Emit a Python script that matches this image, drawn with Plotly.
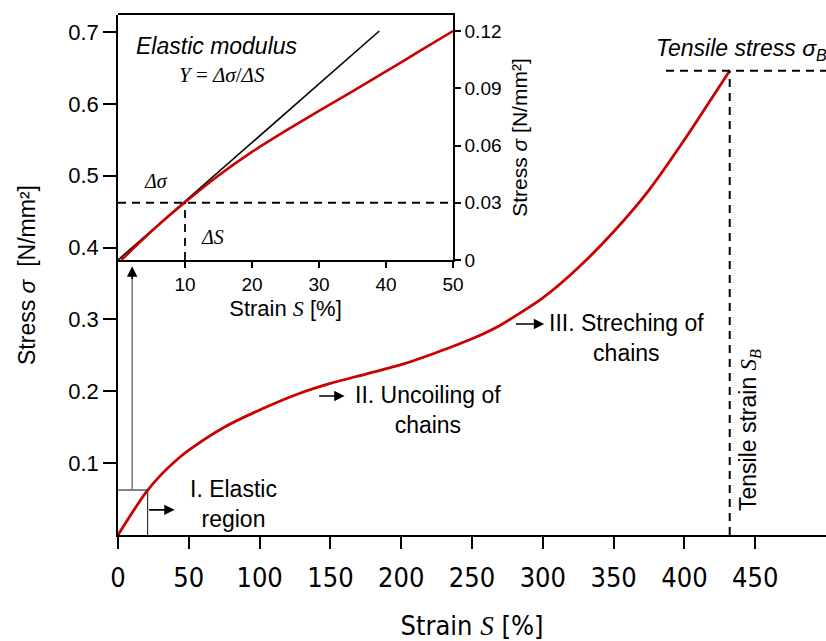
import plotly.graph_objects as go

# ---------------- data ----------------
strain_main = [0, 10, 20, 30, 40, 50, 75, 100, 128, 150, 175, 200, 225, 250, 270,
               300, 325, 350, 375, 400, 420, 432]
stress_main = [0, 0.031, 0.060, 0.083, 0.102, 0.118, 0.150, 0.174, 0.197, 0.211, 0.224,
               0.237, 0.254, 0.273, 0.292, 0.330, 0.372, 0.422, 0.480, 0.550, 0.610, 0.646]

strain_inset = [0.5, 5, 10, 15, 20, 25, 30, 35, 40, 45, 50]
stress_inset = [0, 0.0150, 0.0302, 0.0443, 0.0567, 0.0677, 0.0781, 0.0884, 0.0988, 0.1094, 0.12]

tangent_strain = [0, 39]
tangent_stress = [0, 0.12]

main_xticks = [0, 50, 100, 150, 200, 250, 300, 350, 400, 450]
main_yticks = [0.1, 0.2, 0.3, 0.4, 0.5, 0.6, 0.7]
main_yticktext = ["0.1", "0.2", "0.3", "0.4", "0.5", "0.6", "0.7"]
inset_xticks = [10, 20, 30, 40, 50]
inset_yticks = [0, 0.03, 0.06, 0.09, 0.12]
inset_yticktext = ["0", "0.03", "0.06", "0.09", "0.12"]

tensile_strain = 432
tensile_stress = 0.646
elastic_box_strain = 20.9
elastic_box_stress = 0.0626
ref_strain = 10
ref_stress = 0.03
arrow_top_stress = 0.374

# ---------------- style ----------------
RED = "#cc0000"
SANS = "Liberation Sans, Arial, sans-serif"
NARROW = "Liberation Sans Narrow, Arial Narrow, DejaVu Sans Condensed, Liberation Sans, sans-serif"
SERIF = "Liberation Serif"

fig = go.Figure()
fig.add_trace(go.Scatter(x=strain_main, y=stress_main, mode="lines",
                         line=dict(color=RED, width=2.8, shape="spline", smoothing=0.7),
                         xaxis="x", yaxis="y", hoverinfo="skip"))
fig.add_trace(go.Scatter(x=tangent_strain, y=tangent_stress, mode="lines",
                         line=dict(color="black", width=1.6),
                         xaxis="x2", yaxis="y2", hoverinfo="skip"))
fig.add_trace(go.Scatter(x=strain_inset, y=stress_inset, mode="lines",
                         line=dict(color=RED, width=2.6, shape="spline", smoothing=0.5),
                         xaxis="x2", yaxis="y2", hoverinfo="skip"))

L, R, T, B = 118, 0, 15, 106
W, H = 826, 641
PW, PH = W - L - R, H - T - B


def px(xp):
    return (xp - L) / PW


def py(yp):
    return (H - B - yp) / PH


dash = "8px,6px"
shapes = [
    # tensile strength lines
    dict(type="line", xref="x", yref="y", x0=tensile_strain, x1=tensile_strain,
         y0=0, y1=tensile_stress, line=dict(color="black", width=2, dash=dash)),
    dict(type="line", xref="x", yref="y", x0=tensile_strain - 45, x1=500,
         y0=tensile_stress, y1=tensile_stress, line=dict(color="black", width=2, dash=dash)),
    # elastic region box
    dict(type="line", xref="x", yref="y", x0=0, x1=elastic_box_strain,
         y0=elastic_box_stress, y1=elastic_box_stress, line=dict(color="#333333", width=1.2)),
    dict(type="line", xref="x", yref="y", x0=elastic_box_strain, x1=elastic_box_strain,
         y0=0, y1=elastic_box_stress, line=dict(color="#333333", width=1.2)),
    # vertical arrow line (gray)
    dict(type="line", xref="x", yref="y", x0=ref_strain, x1=ref_strain,
         y0=elastic_box_stress, y1=arrow_top_stress - 0.01, line=dict(color="#777777", width=1.5)),
    # inset dashed lines
    dict(type="line", xref="x2", yref="y2", x0=0, x1=50, y0=ref_stress, y1=ref_stress,
         line=dict(color="black", width=1.8, dash=dash)),
    dict(type="line", xref="x2", yref="y2", x0=ref_strain, x1=ref_strain, y0=0, y1=ref_stress,
         line=dict(color="black", width=1.8, dash=dash)),
]

ann = []


def text(xp, yp, s, size=23, family=SANS, xanchor="center", angle=0):
    ann.append(dict(xref="paper", yref="paper", x=px(xp), y=py(yp), text=s, showarrow=False,
                    xanchor=xanchor, yanchor="middle", textangle=angle,
                    font=dict(family=family, size=size, color="black")))


def arrow(x0, x1, yv, color="black"):
    ann.append(dict(xref="x", yref="y", axref="x", ayref="y", x=x1, y=yv, ax=x0, ay=yv,
                    text="", showarrow=True, arrowhead=2, arrowsize=1.3, arrowwidth=1.6,
                    arrowcolor=color, standoff=0, startstandoff=0))


text(217, 46, "<i>Elastic modulus</i>", size=23)
text(222, 75, "<i>Y</i> = <i>Δσ</i>/<i>ΔS</i>", size=21, family=SERIF)
text(156, 181, "<i>Δσ</i>", size=20, family=SERIF)
text(212, 237, "<i>ΔS</i>", size=20, family=SERIF)
text(233, 504, "I. Elastic<br>region", size=23)
text(428, 410, "II. Uncoiling of<br>chains", size=23)
text(626, 338, "III. Streching of<br>chains", size=23)
text(654, 50, "<i>Tensile stress σ<sub>B</sub></i>", size=23, xanchor="left")
text(749, 430, "Tensile strain <span style='font-family:Liberation Serif'><i>S<sub>B</sub></i></span>",
     size=23, angle=-90)

arrow(elastic_box_strain, 40, 0.035)
arrow(141, 160, 0.1934)
arrow(280, 301, 0.2936)
# arrowhead of vertical arrow
ann.append(dict(xref="x", yref="y", axref="x", ayref="y", x=ref_strain, y=arrow_top_stress,
                ax=ref_strain, ay=arrow_top_stress - 0.02, text="", showarrow=True,
                arrowhead=2, arrowsize=1.3, arrowwidth=1.6, arrowcolor="black",
                standoff=0, startstandoff=0))

axis_common = dict(showgrid=False, zeroline=False, showline=True, linecolor="black",
                   linewidth=1.5, ticks="outside", tickcolor="black", tickwidth=1.5)

fig.update_layout(
    width=W, height=H, margin=dict(l=L, r=R, t=T, b=B, autoexpand=False),
    paper_bgcolor="white", plot_bgcolor="white", showlegend=False,
    shapes=shapes, annotations=ann,
    xaxis=dict(**axis_common, range=[0, 500], tickvals=main_xticks, ticklen=12,
               tickfont=dict(family=NARROW, size=27, color="black"), ticklabelstandoff=6,
               title=dict(text="Strain <span style='font-family:Liberation Serif'><i>S</i></span> [%]",
                          font=dict(family=NARROW, size=27, color="black"), standoff=26),
               automargin=False),
    yaxis=dict(**axis_common, range=[0, (H - B - T) / 718.6], tickvals=main_yticks,
               ticktext=main_yticktext, ticklen=13,
               tickfont=dict(family=SANS, size=22, color="black"),
               title=dict(text="Stress <i>σ</i>  [N/mm²]",
                          font=dict(family=SANS, size=23, color="black"), standoff=26),
               automargin=False),
    xaxis2=dict(**axis_common, domain=[0, px(453)], anchor="y2", range=[0, 50],
                tickvals=inset_xticks, ticklen=6, mirror=True,
                tickfont=dict(family=SANS, size=19, color="black"),
                title=dict(text="Strain <span style='font-family:Liberation Serif'><i>S</i></span> [%]",
                           font=dict(family=SANS, size=22, color="black"), standoff=7),
                automargin=False),
    yaxis2=dict(**axis_common, domain=[py(260), 1], anchor="x2", side="right",
                range=[0, 0.12 * 245 / 229], tickvals=inset_yticks, ticktext=inset_yticktext,
                ticklen=6, tickfont=dict(family=SANS, size=19, color="black"),
                title=dict(text="Stress <i>σ</i> [N/mm²]",
                           font=dict(family=SANS, size=21, color="black"), standoff=12),
                automargin=False),
)

fig.write_html("out.html")
